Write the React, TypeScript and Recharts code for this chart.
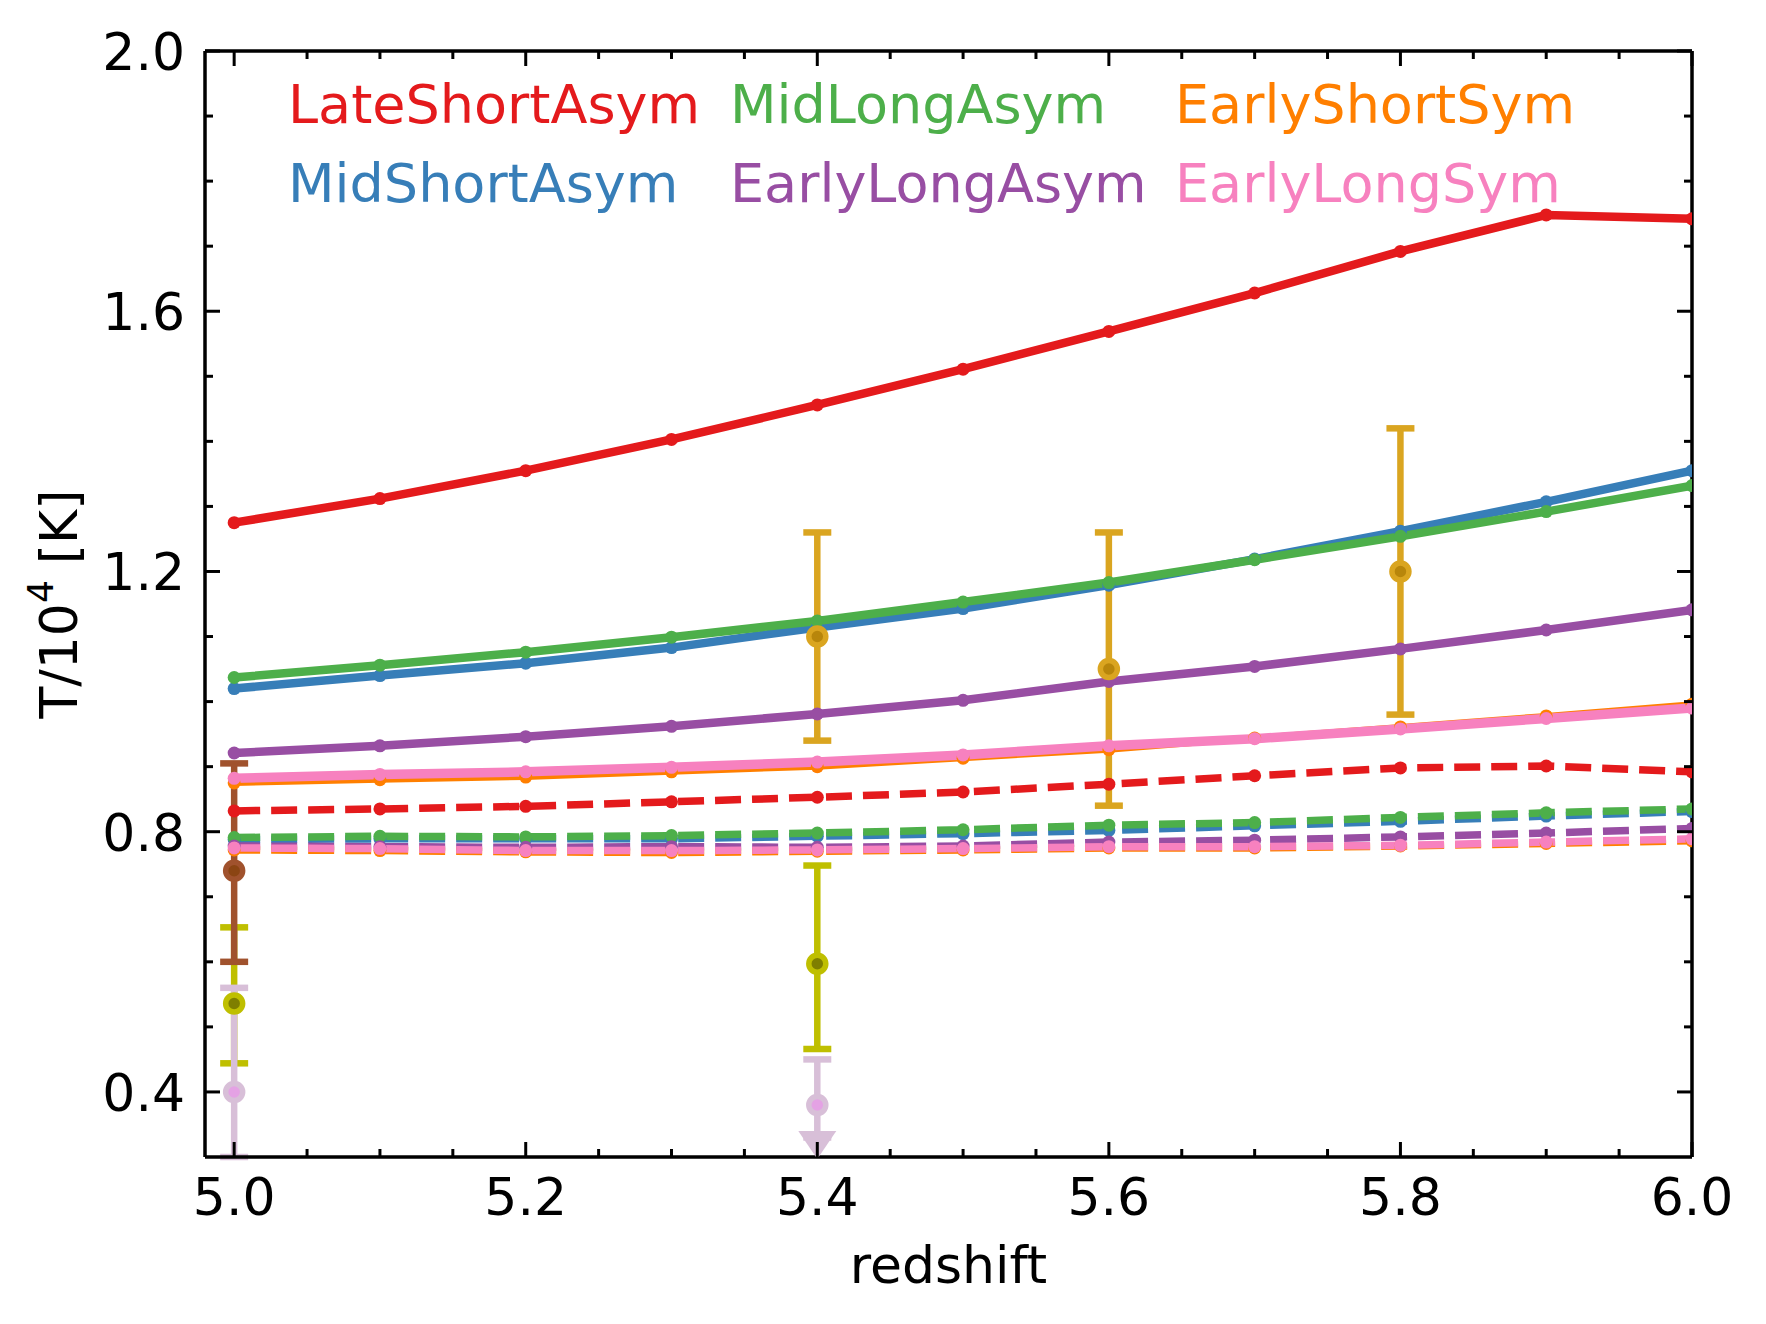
import React from 'react';
import { ComposedChart, Line, Scatter, XAxis, YAxis, ErrorBar, Legend, Label } from 'recharts';

// ---------- data ----------
const redshift = [5.0, 5.1, 5.2, 5.3, 5.4, 5.5, 5.6, 5.7, 5.8, 5.9, 6.0];

const seriesNames = ['LateShortAsym', 'MidShortAsym', 'MidLongAsym', 'EarlyLongAsym', 'EarlyShortSym', 'EarlyLongSym'];

// solid lines
const lateShortAsymSolid = [1.275, 1.312, 1.355, 1.403, 1.456, 1.511, 1.569, 1.628, 1.692, 1.748, 1.742];
const midShortAsymSolid = [1.020, 1.040, 1.059, 1.083, 1.114, 1.143, 1.179, 1.219, 1.262, 1.307, 1.355];
const midLongAsymSolid = [1.037, 1.056, 1.076, 1.099, 1.124, 1.153, 1.183, 1.218, 1.254, 1.292, 1.332];
const earlyLongAsymSolid = [0.921, 0.932, 0.946, 0.962, 0.981, 1.002, 1.031, 1.054, 1.081, 1.110, 1.141];
const earlyShortSymSolid = [0.875, 0.880, 0.884, 0.892, 0.900, 0.913, 0.926, 0.944, 0.961, 0.978, 0.996];
const earlyLongSymSolid = [0.882, 0.888, 0.892, 0.899, 0.907, 0.918, 0.932, 0.943, 0.958, 0.974, 0.990];

// dashed lines
const lateShortAsymDashed = [0.832, 0.835, 0.839, 0.846, 0.853, 0.861, 0.873, 0.886, 0.898, 0.901, 0.892];
const midShortAsymDashed = [0.788, 0.789, 0.789, 0.789, 0.793, 0.797, 0.802, 0.809, 0.816, 0.824, 0.831];
const midLongAsymDashed = [0.791, 0.793, 0.792, 0.794, 0.798, 0.803, 0.810, 0.814, 0.822, 0.829, 0.835];
const earlyLongAsymDashed = [0.778, 0.777, 0.776, 0.777, 0.776, 0.778, 0.784, 0.787, 0.792, 0.798, 0.805];
const earlyShortSymDashed = [0.772, 0.771, 0.769, 0.768, 0.770, 0.772, 0.775, 0.775, 0.778, 0.782, 0.786];
const earlyLongSymDashed = [0.775, 0.774, 0.771, 0.771, 0.772, 0.774, 0.777, 0.777, 0.779, 0.784, 0.789];

const solidValues = [lateShortAsymSolid, midShortAsymSolid, midLongAsymSolid, earlyLongAsymSolid, earlyShortSymSolid, earlyLongSymSolid];
const dashedValues = [lateShortAsymDashed, midShortAsymDashed, midLongAsymDashed, earlyLongAsymDashed, earlyShortSymDashed, earlyLongSymDashed];

// observations: [redshift], [T], [[lowerErr, upperErr]]
const goldZ = [5.4, 5.6, 5.8];
const goldT = [1.10, 1.05, 1.20];
const goldErr = [[0.16, 0.16], [0.21, 0.21], [0.22, 0.22]];

const brownZ = [5.0];
const brownT = [0.74];
const brownErr = [[0.14, 0.165]];

const oliveZ = [5.0, 5.4];
const oliveT = [0.536, 0.597];
const oliveErr = [[0.092, 0.117], [0.131, 0.151]];

// lower bar at z=5.0 runs off the bottom of the axes: drawn down to the axis edge
const thistleZ = [5.0, 5.4];
const thistleT = [0.40, 0.38];
const thistleErr = [[0.10, 0.16], [0.05, 0.07]];

const limitZ = [5.4];
const limitT = [0.30];

// ticks
const xTicks = [5.0, 5.05, 5.1, 5.15, 5.2, 5.25, 5.3, 5.35, 5.4, 5.45, 5.5, 5.55, 5.6, 5.65, 5.7, 5.75, 5.8, 5.85, 5.9, 5.95, 6.0];
const yTicks = [0.4, 0.5, 0.6, 0.7, 0.8, 0.9, 1.0, 1.1, 1.2, 1.3, 1.4, 1.5, 1.6, 1.7, 1.8, 1.9, 2.0];

// ---------- styles ----------
const seriesColors = ['#e41a1c', '#377eb8', '#4daf4a', '#984ea3', '#ff7f00', '#f781bf'];
const solidWidths = [8.5, 8.5, 8.5, 8.5, 6, 9.5];
const dashedWidth = 7.5;
const legendColX = [288, 730, 1175];
const legendRowY = [77.5, 157];
const FONT = 'DejaVu Sans';
const FRAME_W = 3.5;
const TICK_W = 3;
const ERR_W = 6.5;
const CAP_HALF = 14;

const chartData = redshift.map((z, i) => {
  const row: Record<string, number> = { z };
  seriesNames.forEach((n, k) => {
    row[n + '_solid'] = solidValues[k][i];
    row[n + '_dashed'] = dashedValues[k][i];
  });
  return row;
});

const obs = (zs: number[], ts: number[], errs?: number[][]) =>
  zs.map((z, i) => ({ z, t: ts[i], err: errs ? errs[i] : [0, 0] }));

const goldData = obs(goldZ, goldT, goldErr);
const brownData = obs(brownZ, brownT, brownErr);
const oliveData = obs(oliveZ, oliveT, oliveErr);
const thistleData = obs(thistleZ, thistleT, thistleErr);
const limitData = obs(limitZ, limitT);

const isMultiple = (v: number, step: number) => Math.abs(v / step - Math.round(v / step)) < 1e-6;

const BottomTick = (props: any) => {
  const { x, y, payload } = props;
  const major = isMultiple(payload.value, 0.2);
  return (
    <g>
      <line x1={x} y1={y} x2={x} y2={y - (major ? 15 : 8)} stroke="#000" strokeWidth={TICK_W} />
      {major && (
        <text x={x} y={y + 58} textAnchor="middle" fontSize={52} fontFamily={FONT} fill="#000">
          {payload.value.toFixed(1)}
        </text>
      )}
    </g>
  );
};

const TopTick = (props: any) => {
  const { x, y, payload } = props;
  const major = isMultiple(payload.value, 0.2);
  return <line x1={x} y1={y} x2={x} y2={y + (major ? 15 : 8)} stroke="#000" strokeWidth={TICK_W} />;
};

const LeftTick = (props: any) => {
  const { x, y, payload } = props;
  const major = isMultiple(payload.value, 0.4);
  return (
    <g>
      <line x1={x} y1={y} x2={x + (major ? 15 : 8)} y2={y} stroke="#000" strokeWidth={TICK_W} />
      {major && (
        <text x={x - 20} y={y + 19} textAnchor="end" fontSize={52} fontFamily={FONT} fill="#000">
          {payload.value.toFixed(1)}
        </text>
      )}
    </g>
  );
};

const RightTick = (props: any) => {
  const { x, y, payload } = props;
  const major = isMultiple(payload.value, 0.4);
  return <line x1={x} y1={y} x2={x - (major ? 15 : 8)} y2={y} stroke="#000" strokeWidth={TICK_W} />;
};

const obsMarker = (ring: string, core: string) => (props: any) => (
  <circle cx={props.cx} cy={props.cy} r={8.5} fill={core} stroke={ring} strokeWidth={5.5} />
);

const ArrowHead = (props: any) => (
  <path
    d={`M${props.cx - 19},${props.cy - 26} L${props.cx + 19},${props.cy - 26} L${props.cx},${props.cy + 2} Z`}
    fill="#d8bfd8"
  />
);

const LegendContent = () => (
  <div style={{ position: 'relative', width: 0, height: 0 }}>
    {seriesNames.map((n, i) => (
      <span
        key={n}
        style={{
          position: 'absolute',
          left: legendColX[Math.floor(i / 2)],
          top: legendRowY[i % 2],
          color: seriesColors[i],
          fontFamily: FONT,
          fontSize: 54,
          lineHeight: 1,
          whiteSpace: 'nowrap',
        }}
      >
        {n}
      </span>
    ))}
  </div>
);

const XTitle = (props: any) => {
  const vb = props.viewBox;
  return (
    <text x={vb.x + vb.width / 2} y={vb.y + 126} textAnchor="middle" fontSize={52} fontFamily={FONT} fill="#000">
      redshift
    </text>
  );
};

const YTitle = (props: any) => {
  const vb = props.viewBox;
  const cx = 77;
  const cy = vb.y + vb.height / 2;
  return (
    <text
      x={cx}
      y={cy}
      transform={`rotate(-90, ${cx}, ${cy})`}
      textAnchor="middle"
      fontSize={52}
      fontFamily={FONT}
      fill="#000"
    >
      T/10
      <tspan dy={-24} fontSize={36}>4</tspan>
      <tspan dy={24} dx={16}>[K]</tspan>
    </text>
  );
};

export default function App() {
  return (
    <div style={{ position: 'absolute', left: 0, top: 0, background: '#fff' }}>
      <ComposedChart
        width={1766}
        height={1324}
        data={chartData}
        margin={{ top: 50, right: 73, bottom: 0, left: 0 }}
        style={{ fontFamily: FONT }}
      >
        {seriesNames.map((n, k) => [
          <Line
            key={n + '_solid'}
            type="linear"
            dataKey={n + '_solid'}
            stroke={seriesColors[k]}
            strokeWidth={solidWidths[k]}
            dot={{ r: 6.5, fill: seriesColors[k], stroke: 'none' }}
            activeDot={false}
            isAnimationActive={false}
          />,
          <Line
            key={n + '_dashed'}
            type="linear"
            dataKey={n + '_dashed'}
            stroke={seriesColors[k]}
            strokeWidth={dashedWidth}
            strokeDasharray="26 11"
            dot={{ r: 6.5, fill: seriesColors[k], stroke: 'none', strokeDasharray: '0' }}
            activeDot={false}
            isAnimationActive={false}
          />,
        ])}

        <Scatter data={oliveData} dataKey="t" shape={obsMarker('#bfbf00', '#7f7f00')} isAnimationActive={false}>
          <ErrorBar dataKey="err" direction="y" width={CAP_HALF} strokeWidth={ERR_W} stroke="#bfbf00" isAnimationActive={false} />
        </Scatter>
        <Scatter data={thistleData} dataKey="t" shape={obsMarker('#d8bfd8', '#e4a2e4')} isAnimationActive={false}>
          <ErrorBar dataKey="err" direction="y" width={CAP_HALF} strokeWidth={ERR_W} stroke="#d8bfd8" isAnimationActive={false} />
        </Scatter>
        <Scatter data={limitData} dataKey="t" shape={ArrowHead} isAnimationActive={false} />
        <Scatter data={brownData} dataKey="t" shape={obsMarker('#a0522d', '#8b4513')} isAnimationActive={false}>
          <ErrorBar dataKey="err" direction="y" width={CAP_HALF} strokeWidth={ERR_W} stroke="#a0522d" isAnimationActive={false} />
        </Scatter>
        <Scatter
          data={goldData}
          dataKey="t"
          xAxisId="top"
          yAxisId="right"
          shape={obsMarker('#daa520', '#b8860b')}
          isAnimationActive={false}
        >
          <ErrorBar dataKey="err" direction="y" width={CAP_HALF} strokeWidth={ERR_W} stroke="#daa520" isAnimationActive={false} />
        </Scatter>

        <XAxis
          type="number"
          dataKey="z"
          domain={[4.98, 6.0]}
          allowDataOverflow
          ticks={xTicks}
          interval={0}
          tick={<BottomTick />}
          tickLine={false}
          tickSize={0}
          tickMargin={0}
          height={167}
          axisLine={{ stroke: '#000', strokeWidth: FRAME_W }}
        >
          <Label content={<XTitle />} />
        </XAxis>
        <XAxis
          xAxisId="top"
          orientation="top"
          type="number"
          dataKey="z"
          domain={[4.98, 6.0]}
          allowDataOverflow
          ticks={xTicks}
          interval={0}
          tick={<TopTick />}
          tickLine={false}
          tickSize={0}
          tickMargin={0}
          height={1}
          axisLine={{ stroke: '#000', strokeWidth: FRAME_W }}
        />
        <YAxis
          type="number"
          domain={[0.3, 2.0]}
          allowDataOverflow
          ticks={yTicks}
          interval={0}
          tick={<LeftTick />}
          tickLine={false}
          tickSize={0}
          tickMargin={0}
          width={205}
          axisLine={{ stroke: '#000', strokeWidth: FRAME_W }}
        >
          <Label content={<YTitle />} />
        </YAxis>
        <YAxis
          yAxisId="right"
          orientation="right"
          type="number"
          domain={[0.3, 2.0]}
          allowDataOverflow
          ticks={yTicks}
          interval={0}
          tick={<RightTick />}
          tickLine={false}
          tickSize={0}
          tickMargin={0}
          width={1}
          axisLine={{ stroke: '#000', strokeWidth: FRAME_W }}
        />
        <Legend content={<LegendContent />} wrapperStyle={{ left: 0, top: 0, width: 0, height: 0 }} />
      </ComposedChart>
    </div>
  );
}
